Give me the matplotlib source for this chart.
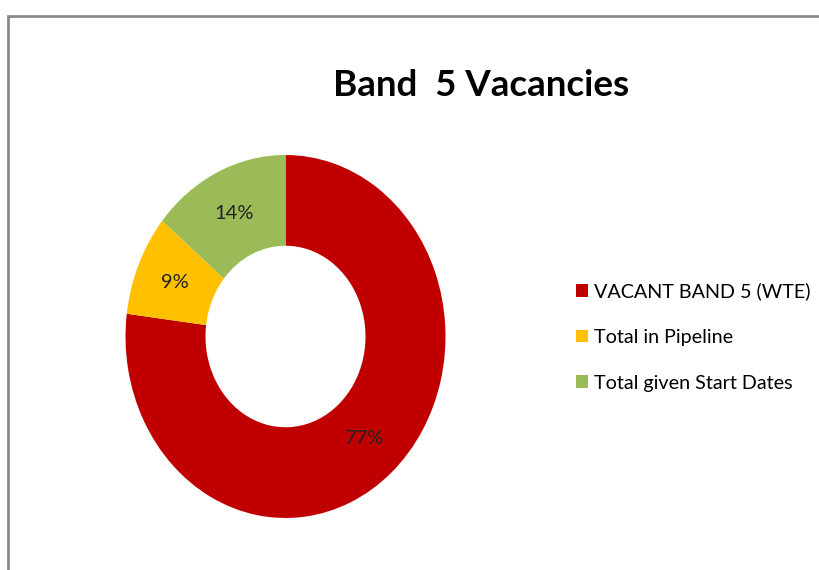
import matplotlib
matplotlib.use("Agg")
import matplotlib.pyplot as plt
from matplotlib.patches import Rectangle, Patch

categories = ["VACANT BAND 5 (WTE)", "Total in Pipeline", "Total given Start Dates"]
values = [77, 9, 14]
colors = ["#C00000", "#FFC000", "#9BBB59"]
title = "Band  5 Vacancies"

plt.rcParams['font.family'] = ['Lato', 'DejaVu Sans']

W, H = 819, 570
fig = plt.figure(figsize=(W / 100, H / 100), dpi=100)

# frame
fig.patches.append(Rectangle((8 / W, -0.1), 1.2, (H - 16) / H + 0.1,
                             transform=fig.transFigure, fill=False,
                             edgecolor="#8a8a8a", linewidth=2.0))

cx, cy, rx, ry = 285.5, 336.5, 160, 181.5
ax = fig.add_axes([(cx - rx) / W, (H - cy - ry) / H, 2 * rx / W, 2 * ry / H])
wedges, texts, autotexts = ax.pie(values, colors=colors, startangle=90, counterclock=False,
                                  autopct='%.0f%%', pctdistance=0.75,
                                  wedgeprops=dict(width=0.5, linewidth=0),
                                  textprops=dict(fontsize=14.5, color="#222222"))
ax.set_aspect('auto')
ax.set_xlim(-1, 1)
ax.set_ylim(-1, 1)
ax.axis('off')

fig.text(481 / W, 1 - 86 / H, title, ha='center', va='center',
         fontsize=26.5, fontweight='bold', color='black')

handles = [Patch(facecolor=c, edgecolor='none') for c in colors]
fig.legend(handles, categories, loc='center left',
           bbox_to_anchor=(566 / W, 1 - 337 / H), frameon=False,
           fontsize=14.2, handlelength=0.6, handleheight=0.6, handletextpad=0.3,
           labelspacing=1.45, borderpad=0)

fig.savefig("out.png", dpi=100)
